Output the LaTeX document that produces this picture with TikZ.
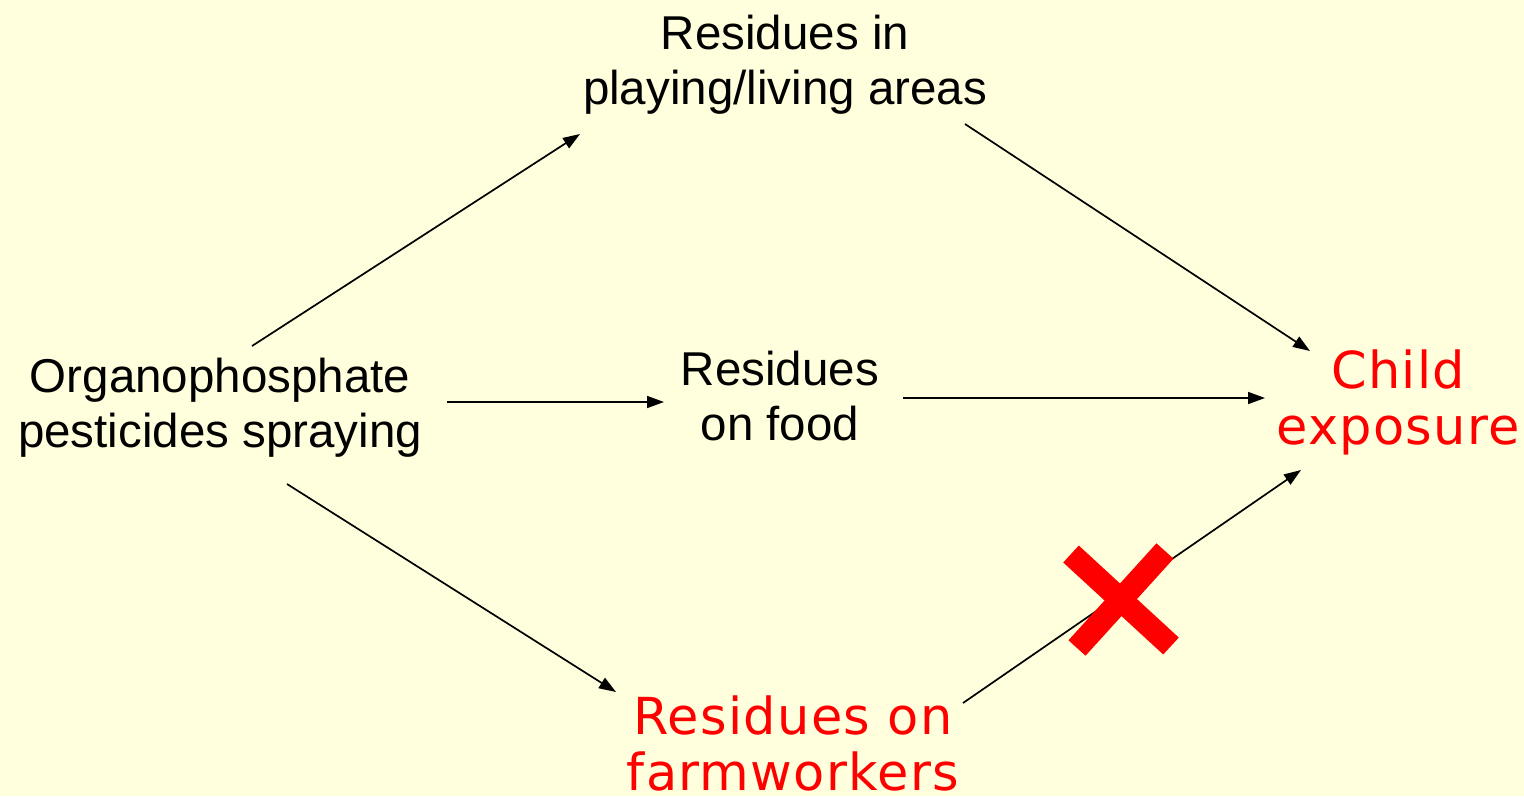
\documentclass[tikz,border=0pt]{standalone}
\usepackage{fontspec}
\setmainfont{Liberation Sans}
\newfontfamily\redfont[LetterSpace=2.5]{DejaVu Sans}
\usetikzlibrary{arrows.meta}
\definecolor{bg}{HTML}{FFFFDD}
\definecolor{warn}{HTML}{FF0000}
\tikzset{
  lbl/.style={align=center, anchor=base, inner sep=0pt, font=\fontsize{47.5}{55}\selectfont},
  redlbl/.style={lbl, text=warn, font=\fontsize{51}{56}\redfont},
  arr/.style={line width=1.7pt, -{Triangle[length=17pt,width=12pt]}},
  crossbar/.style={line width=23pt, warn, line cap=butt}
}
\begin{document}
\begin{tikzpicture}[x=1pt,y=-1pt]
\fill[bg] (0,0) rectangle (1524,796);
\useasboundingbox (0,0) rectangle (1524,796);
% labels (base = last line's baseline)
\node[lbl] (top) at (785,104) {Residues in\\playing/living areas};
\node[lbl] (op) at (220,447) {Organophosphate\\pesticides spraying};
\node[lbl] (food) at (780,440) {Residues\\on food};
\node[redlbl] (child) at (1398,444) {Child\\exposure};
\node[redlbl] (farm) at (793,790) {Residues on\\farmworkers};
% connector ends
\coordinate (op-a) at (252,346);
\coordinate (top-in) at (580,134);
\coordinate (op-b) at (447,402);
\coordinate (food-in) at (664,402);
\coordinate (op-c) at (287,484);
\coordinate (farm-in) at (616,692);
\coordinate (top-out) at (965,124);
\coordinate (child-a) at (1310,351);
\coordinate (food-out) at (903,398);
\coordinate (child-b) at (1265,398);
\coordinate (farm-out) at (963,703);
\coordinate (child-c) at (1301,470);
\draw[arr] (op-a) -- (top-in);
\draw[arr] (op-b) -- (food-in);
\draw[arr] (op-c) -- (farm-in);
\draw[arr] (top-out) -- (child-a);
\draw[arr] (food-out) -- (child-b);
\draw[arr] (farm-out) -- (child-c);
% cross
\coordinate (x1a) at (1071,554);
\coordinate (x1b) at (1171,646);
\coordinate (x2a) at (1165,551);
\coordinate (x2b) at (1077,648);
\draw[crossbar] (x1a) -- (x1b);
\draw[crossbar] (x2a) -- (x2b);
\end{tikzpicture}
\end{document}
